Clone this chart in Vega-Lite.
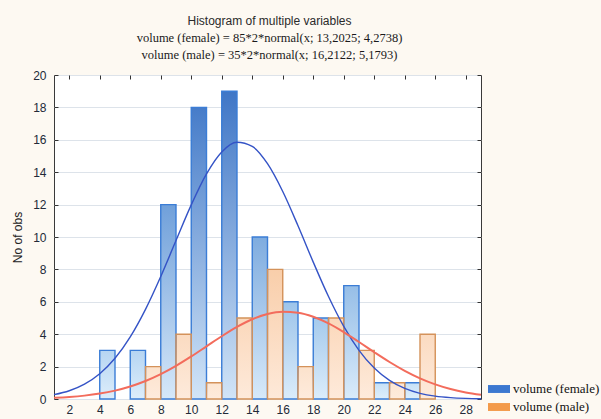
{
  "$schema": "https://vega.github.io/schema/vega-lite/v6.json",
  "width": 427,
  "height": 324,
  "autosize": {"type": "none"},
  "padding": {"left": 54, "top": 75, "right": 120, "bottom": 20},
  "background": "#fdf9f2",
  "title": {
    "text": "Histogram of multiple variables",
    "subtitle": ["volume (female) = 85*2*normal(x; 13,2025; 4,2738)", "volume (male) = 35*2*normal(x; 16,2122; 5,1793)"],
    "anchor": "middle",
    "dx": 2,
    "font": "Liberation Sans",
    "fontSize": 12,
    "fontWeight": "normal",
    "color": "#2a2a2a",
    "subtitleFont": "Liberation Serif",
    "subtitleFontSize": 12.5,
    "subtitleColor": "#1a1a1a",
    "subtitleLineHeight": 17,
    "subtitlePadding": 4,
    "offset": 7
  },
  "config": {
    "view": {"stroke": "#3a3a3a", "strokeWidth": 1, "fill": "white"},
    "axis": {"labelFont": "Liberation Sans", "labelFontSize": 12, "labelColor": "#222a38", "titleFont": "Liberation Sans", "titleFontSize": 12, "titleFontWeight": "normal", "titleColor": "#222"}
  },
  "datasets": {
    "bars": [
      {"series": "volume (female)", "lo": 4, "hi": 5, "count": 3},
      {"series": "volume (female)", "lo": 6, "hi": 7, "count": 3},
      {"series": "volume (female)", "lo": 8, "hi": 9, "count": 12},
      {"series": "volume (female)", "lo": 10, "hi": 11, "count": 18},
      {"series": "volume (female)", "lo": 12, "hi": 13, "count": 19},
      {"series": "volume (female)", "lo": 14, "hi": 15, "count": 10},
      {"series": "volume (female)", "lo": 16, "hi": 17, "count": 6},
      {"series": "volume (female)", "lo": 18, "hi": 19, "count": 5},
      {"series": "volume (female)", "lo": 20, "hi": 21, "count": 7},
      {"series": "volume (female)", "lo": 22, "hi": 23, "count": 1},
      {"series": "volume (female)", "lo": 24, "hi": 25, "count": 1},
      {"series": "volume (male)", "lo": 7, "hi": 8, "count": 2},
      {"series": "volume (male)", "lo": 9, "hi": 10, "count": 4},
      {"series": "volume (male)", "lo": 11, "hi": 12, "count": 1},
      {"series": "volume (male)", "lo": 13, "hi": 14, "count": 5},
      {"series": "volume (male)", "lo": 15, "hi": 16, "count": 8},
      {"series": "volume (male)", "lo": 17, "hi": 18, "count": 2},
      {"series": "volume (male)", "lo": 19, "hi": 20, "count": 5},
      {"series": "volume (male)", "lo": 21, "hi": 22, "count": 3},
      {"series": "volume (male)", "lo": 23, "hi": 24, "count": 1},
      {"series": "volume (male)", "lo": 25, "hi": 26, "count": 4}
    ],
    "curves": [
      {"series": "volume (female)", "x": 1, "y": 0.269},
      {"series": "volume (female)", "x": 2, "y": 0.511},
      {"series": "volume (female)", "x": 3, "y": 0.919},
      {"series": "volume (female)", "x": 4, "y": 1.562},
      {"series": "volume (female)", "x": 5, "y": 2.515},
      {"series": "volume (female)", "x": 6, "y": 3.835},
      {"series": "volume (female)", "x": 7, "y": 5.535},
      {"series": "volume (female)", "x": 8, "y": 7.563},
      {"series": "volume (female)", "x": 9, "y": 9.784},
      {"series": "volume (female)", "x": 10, "y": 11.982},
      {"series": "volume (female)", "x": 11, "y": 13.893},
      {"series": "volume (female)", "x": 12, "y": 15.25},
      {"series": "volume (female)", "x": 13, "y": 15.848},
      {"series": "volume (female)", "x": 14, "y": 15.592},
      {"series": "volume (female)", "x": 15, "y": 14.523},
      {"series": "volume (female)", "x": 16, "y": 12.807},
      {"series": "volume (female)", "x": 17, "y": 10.691},
      {"series": "volume (female)", "x": 18, "y": 8.45},
      {"series": "volume (female)", "x": 19, "y": 6.323},
      {"series": "volume (female)", "x": 20, "y": 4.479},
      {"series": "volume (female)", "x": 21, "y": 3.004},
      {"series": "volume (female)", "x": 22, "y": 1.907},
      {"series": "volume (female)", "x": 23, "y": 1.146},
      {"series": "volume (female)", "x": 24, "y": 0.652},
      {"series": "volume (female)", "x": 25, "y": 0.351},
      {"series": "volume (female)", "x": 26, "y": 0.179},
      {"series": "volume (female)", "x": 27, "y": 0.087},
      {"series": "volume (female)", "x": 28, "y": 0.04},
      {"series": "volume (female)", "x": 29, "y": 0.017},
      {"series": "volume (male)", "x": 1, "y": 0.072},
      {"series": "volume (male)", "x": 2, "y": 0.125},
      {"series": "volume (male)", "x": 3, "y": 0.208},
      {"series": "volume (male)", "x": 4, "y": 0.335},
      {"series": "volume (male)", "x": 5, "y": 0.518},
      {"series": "volume (male)", "x": 6, "y": 0.772},
      {"series": "volume (male)", "x": 7, "y": 1.109},
      {"series": "volume (male)", "x": 8, "y": 1.534},
      {"series": "volume (male)", "x": 9, "y": 2.045},
      {"series": "volume (male)", "x": 10, "y": 2.627},
      {"series": "volume (male)", "x": 11, "y": 3.25},
      {"series": "volume (male)", "x": 12, "y": 3.873},
      {"series": "volume (male)", "x": 13, "y": 4.449},
      {"series": "volume (male)", "x": 14, "y": 4.922},
      {"series": "volume (male)", "x": 15, "y": 5.246},
      {"series": "volume (male)", "x": 16, "y": 5.387},
      {"series": "volume (male)", "x": 17, "y": 5.33},
      {"series": "volume (male)", "x": 18, "y": 5.08},
      {"series": "volume (male)", "x": 19, "y": 4.665},
      {"series": "volume (male)", "x": 20, "y": 4.127},
      {"series": "volume (male)", "x": 21, "y": 3.517},
      {"series": "volume (male)", "x": 22, "y": 2.888},
      {"series": "volume (male)", "x": 23, "y": 2.284},
      {"series": "volume (male)", "x": 24, "y": 1.741},
      {"series": "volume (male)", "x": 25, "y": 1.278},
      {"series": "volume (male)", "x": 26, "y": 0.904},
      {"series": "volume (male)", "x": 27, "y": 0.616},
      {"series": "volume (male)", "x": 28, "y": 0.405},
      {"series": "volume (male)", "x": 29, "y": 0.256}
    ]
  },
  "layer": [
    {
      "data": {"name": "bars"},
      "mark": {"type": "bar", "strokeWidth": 0},
      "encoding": {
        "x": {"field": "lo", "type": "quantitative", "scale": {"domain": [1, 29], "nice": false, "zero": false},
          "axis": {"orient": "bottom", "values": [2, 4, 6, 8, 10, 12, 14, 16, 18, 20, 22, 24, 26, 28], "ticks": false, "domain": false, "grid": false, "labelPadding": 5, "title": null}},
        "x2": {"field": "hi"},
        "y": {"field": "count", "type": "quantitative", "scale": {"domain": [0, 20], "nice": false},
          "axis": {"orient": "left", "values": [0, 2, 4, 6, 8, 10, 12, 14, 16, 18, 20], "ticks": false, "domain": false, "grid": true, "gridColor": "#dde3ea", "labelPadding": 8, "title": "No of obs", "titlePadding": 8}},
        "y2": {"datum": 0},
        "fill": {"field": "series", "type": "nominal", "scale": {"domain": ["volume (female)", "volume (male)"], "range": ["#3c78d0", "#f39a4a"]},
          "legend": {"orient": "none", "legendX": 434, "legendY": 303, "title": null, "symbolType": "M-1,-0.36H1V0.36H-1Z", "symbolSize": 484, "symbolStrokeWidth": 0, "symbolOpacity": 1, "labelFont": "Liberation Serif", "labelFontSize": 13, "labelColor": "#111", "rowPadding": 0, "labelOffset": 3}}
      }
    },
    {
      "data": {"name": "bars"},
      "transform": [{"filter": "datum.series == 'volume (female)'"}],
      "mark": {"type": "bar", "strokeWidth": 0},
      "encoding": {
        "x": {"field": "lo", "type": "quantitative",
          "axis": {"orient": "top", "values": [2, 4, 6, 8, 10, 12, 14, 16, 18, 20, 22, 24, 26, 28], "labels": false, "ticks": true, "tickSize": -4, "tickColor": "#333", "domain": false, "grid": false, "title": null}},
        "x2": {"field": "hi"},
        "y": {"field": "count", "type": "quantitative",
          "axis": {"orient": "right", "values": [0, 2, 4, 6, 8, 10, 12, 14, 16, 18, 20], "labels": false, "ticks": true, "tickSize": -4, "tickColor": "#333", "domain": false, "grid": false, "title": null}},
        "y2": {"datum": 0},
        "fill": {"field": "count", "type": "quantitative", "scale": {"domain": [0, 20], "range": ["#cfe7fa", "#3870c3"]}, "legend": null}
      }
    },
    {
      "data": {"name": "bars"},
      "transform": [{"filter": "datum.series == 'volume (male)'"}],
      "mark": {"type": "bar", "strokeWidth": 0},
      "encoding": {
        "x": {"field": "lo", "type": "quantitative", "axis": null},
        "x2": {"field": "hi"},
        "y": {"field": "count", "type": "quantitative",
          "axis": {"orient": "left", "values": [0, 2, 4, 6, 8, 10, 12, 14, 16, 18, 20], "labels": false, "ticks": true, "tickSize": -4, "tickColor": "#333", "domain": false, "grid": false, "title": null}},
        "y2": {"datum": 0},
        "fill": {"field": "count", "type": "quantitative", "scale": {"domain": [0, 20], "range": ["#fde9d8", "#f0a46a"]}, "legend": null}
      }
    },
    {
      "data": {"name": "bars"},
      "transform": [{"filter": "datum.series == 'volume (female)'"}],
      "mark": {"type": "bar", "stroke": "#3b7dd6", "strokeWidth": 1.4,
        "fill": {"gradient": "linear", "x1": 0, "y1": 0, "x2": 0, "y2": 1, "stops": [{"offset": 0, "color": "rgba(225,240,252,0)"}, {"offset": 1, "color": "rgba(225,240,252,0.9)"}]}},
      "encoding": {
        "x": {"field": "lo", "type": "quantitative", "axis": null},
        "x2": {"field": "hi"},
        "y": {"field": "count", "type": "quantitative", "axis": null},
        "y2": {"datum": 0}
      }
    },
    {
      "data": {"name": "bars"},
      "transform": [{"filter": "datum.series == 'volume (male)'"}],
      "mark": {"type": "bar", "stroke": "#d4925a", "strokeWidth": 1.4,
        "fill": {"gradient": "linear", "x1": 0, "y1": 0, "x2": 0, "y2": 1, "stops": [{"offset": 0, "color": "rgba(254,236,222,0)"}, {"offset": 1, "color": "rgba(254,236,222,0.9)"}]}},
      "encoding": {
        "x": {"field": "lo", "type": "quantitative", "axis": null},
        "x2": {"field": "hi"},
        "y": {"field": "count", "type": "quantitative", "axis": null},
        "y2": {"datum": 0}
      }
    },
    {
      "data": {"name": "curves"},
      "transform": [{"filter": "datum.series == 'volume (female)'"}],
      "mark": {"type": "line", "interpolate": "monotone", "stroke": "#3453c6", "strokeWidth": 1.4},
      "encoding": {
        "x": {"field": "x", "type": "quantitative", "axis": null},
        "y": {"field": "y", "type": "quantitative", "axis": null}
      }
    },
    {
      "data": {"name": "curves"},
      "transform": [{"filter": "datum.series == 'volume (male)'"}],
      "mark": {"type": "line", "interpolate": "monotone", "stroke": "#f36c5c", "strokeWidth": 2},
      "encoding": {
        "x": {"field": "x", "type": "quantitative", "axis": null},
        "y": {"field": "y", "type": "quantitative", "axis": null}
      }
    }
  ],
  "resolve": {"scale": {"fill": "independent"}, "axis": {"x": "independent", "y": "independent"}}
}
